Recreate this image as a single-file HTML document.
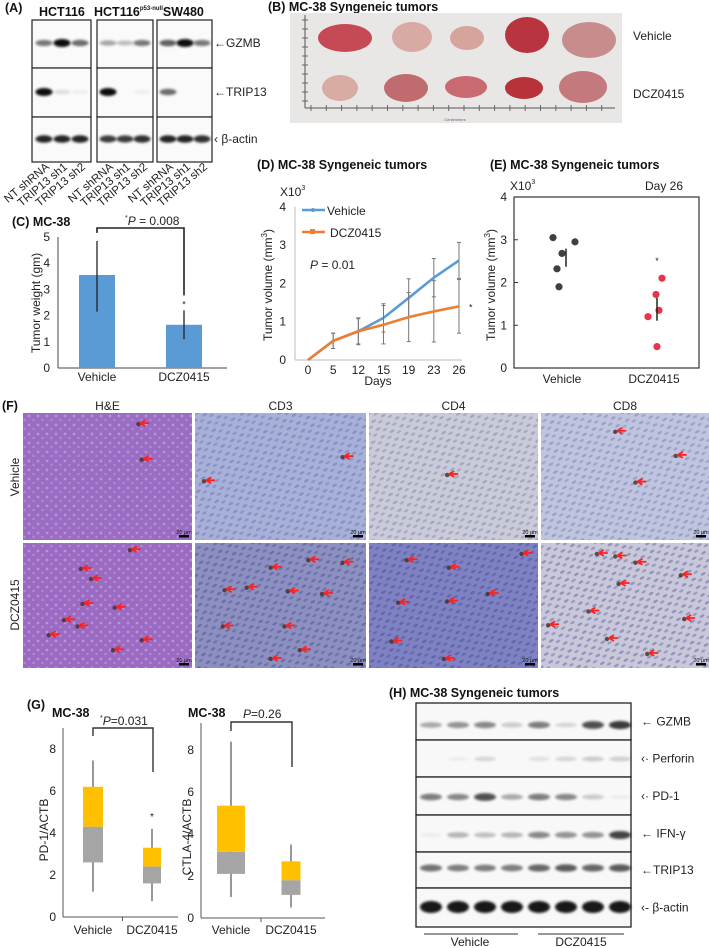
<!DOCTYPE html>
<html><head><meta charset="utf-8"><title>TRIP13 figure</title>
<style>
html,body{margin:0;padding:0;background:#fff;}
svg{display:block;font-family:"Liberation Sans",Arial,sans-serif;}
.t{font-size:12px;fill:#222;}
.b{font-weight:bold;font-size:12.5px;fill:#111;}
</style></head>
<body>
<svg id="fig" width="709" height="948" viewBox="0 0 709 948" xmlns="http://www.w3.org/2000/svg">
<defs>
<filter id="blur1" x="-30%" y="-100%" width="160%" height="300%"><feGaussianBlur stdDeviation="1.3"/></filter>
<filter id="blur2"><feGaussianBlur stdDeviation="2.5"/></filter>
<pattern id="cells" width="11" height="9" patternUnits="userSpaceOnUse" patternTransform="rotate(-30)">
<ellipse cx="3" cy="2.5" rx="2.6" ry="1.3" fill="#2a2f80" opacity="0.35"/>
<ellipse cx="8.5" cy="6.5" rx="2.4" ry="1.2" fill="#2a2f80" opacity="0.3"/>
</pattern>
<pattern id="cellsHE" width="9" height="9" patternUnits="userSpaceOnUse">
<circle cx="2" cy="2" r="1.4" fill="#e6d4f2" opacity="0.55"/>
<circle cx="6.5" cy="6" r="1.2" fill="#e6d4f2" opacity="0.45"/>
</pattern>
</defs>

<!-- Panel A -->
<g>
<text class="b" x="5" y="12" font-size="13">(A)</text>
<text class="b" x="39" y="16" font-size="13">HCT116</text>
<text class="b" x="94" y="16" font-size="13">HCT116<tspan font-size="6" dy="-6">p53-null</tspan><tspan dy="6">SW480</tspan></text>
<g id="blotA"></g>
<text class="t" x="214" y="47">←GZMB</text>
<text class="t" x="214" y="96">←TRIP13</text>
<text class="t" x="214" y="143">‹ β-actin</text>
<g id="laneLabelsA"></g>
</g>

<!-- Panel B -->
<g>
<text class="b" x="268" y="11">(B) MC-38 Syngeneic tumors</text>
<rect x="290" y="13" width="332" height="110" fill="#e9e6e6"/>
<g id="ruler"></g>
<g id="tumors"></g>
<text class="t" x="633" y="40" font-size="13">Vehicle</text>
<text class="t" x="633" y="98" font-size="13">DCZ0415</text>
</g>

<!-- Panel C -->
<g id="panelC">
<text class="b" x="12" y="226">(C) MC-38</text>
<text class="t" transform="translate(40,303) rotate(-90)" text-anchor="middle">Tumor weight (gm)</text>
</g>

<!-- Panel D -->
<g id="panelD">
<text class="b" x="257" y="169">(D) MC-38 Syngeneic tumors</text>
<text class="t" x="280" y="196">X10<tspan font-size="7" dy="-6">3</tspan></text>
<text class="t" transform="translate(272,285) rotate(-90)" text-anchor="middle">Tumor volume (mm<tspan font-size="8" dy="-5">3</tspan><tspan dy="5">)</tspan></text>
<text class="t" x="378" y="385" text-anchor="middle">Days</text>
<text class="t" x="310" y="269"><tspan font-style="italic">P</tspan> = 0.01</text>
</g>

<!-- Panel E -->
<g id="panelE">
<text class="b" x="490" y="169">(E) MC-38 Syngeneic tumors</text>
<text class="t" x="510" y="190">X10<tspan font-size="7" dy="-6">3</tspan></text>
<text class="t" x="645" y="190">Day 26</text>
<text class="t" transform="translate(495,285) rotate(-90)" text-anchor="middle">Tumor volume (mm<tspan font-size="8" dy="-5">3</tspan><tspan dy="5">)</tspan></text>
</g>

<!-- Panel F -->
<g id="panelF">
<text class="b" x="2" y="410">(F)</text>
<text class="t" transform="translate(19,477) rotate(-90)" text-anchor="middle">Vehicle</text>
<text class="t" transform="translate(19,605) rotate(-90)" text-anchor="middle">DCZ0415</text>
</g>

<!-- Panel G -->
<g id="panelG">
<text class="b" x="27" y="709">(G)</text>
<text class="b" x="52" y="717" font-size="11.5">MC-38</text>
<text class="b" x="188" y="717" font-size="11.5">MC-38</text>
<text class="t" x="100" y="725"><tspan font-size="7" dy="-5">*</tspan><tspan font-style="italic" dy="5">P</tspan>=0.031</text>
<text class="t" x="243" y="718"><tspan font-style="italic">P</tspan>=0.26</text>
<text class="t" transform="translate(48,830) rotate(-90)" text-anchor="middle">PD-1/ACTB</text>
<text class="t" transform="translate(191,837) rotate(-90)" text-anchor="middle">CTLA-4/ACTB</text>
</g>

<!-- Panel H -->
<g id="panelH">
<text class="b" x="389" y="697">(H) MC-38 Syngeneic tumors</text>
<g id="blotH"></g>
<line x1="424" y1="934" x2="518" y2="934" stroke="#333" stroke-width="1"/>
<line x1="538" y1="934" x2="624" y2="934" stroke="#333" stroke-width="1"/>
<text class="t" x="470" y="946" text-anchor="middle">Vehicle</text>
<text class="t" x="581" y="946" text-anchor="middle">DCZ0415</text>
</g>
</svg>

<script>
// ===== Chart data =====
// Panel C
const cCategories = ["Vehicle", "DCZ0415"];
const cValues = [3.55, 1.65];
const cErrLow = [2.15, 1.1];
const cErrHigh = [4.85, 2.2];
const cTicks = [0, 1, 2, 3, 4, 5];
// Panel D
const dDays = ["0", "5", "12", "15", "19", "23", "26"];
const dVehicle = [0, 0.5, 0.75, 1.1, 1.62, 2.15, 2.6];
const dDcz = [0, 0.5, 0.75, 0.92, 1.12, 1.27, 1.4];
const dVehicleErr = [0, 0.2, 0.33, 0.37, 0.5, 0.5, 0.47];
const dDczErr = [0, 0.2, 0.35, 0.5, 0.64, 0.8, 0.7];
const dTicks = [0, 1, 2, 3, 4];
// Panel E
const eCategories = ["Vehicle", "DCZ0415"];
const eVehicle = [3.05, 2.32, 1.9, 2.68, 2.95];
const eDcz = [1.2, 1.72, 0.5, 1.35, 2.1];
const eTicks = [0, 1, 2, 3, 4];
// Panel G (box stats: whiskerLow, q1, median, q3, whiskerHigh)
const gCategories = ["Vehicle", "DCZ0415"];
const gPd1Vehicle = [1.2, 2.6, 4.3, 6.2, 7.45];
const gPd1Dcz = [0.75, 1.6, 2.4, 3.3, 4.2];
const gPd1Outlier = [4.85];
const gCtla4Vehicle = [1.0, 2.1, 3.15, 5.35, 8.4];
const gCtla4Dcz = [0.5, 1.1, 1.8, 2.7, 3.5];
const gPd1Ticks = [0, 2, 4, 6, 8];
const gCtla4Ticks = [0, 2, 4, 6, 8];

const NS = "http://www.w3.org/2000/svg";
function mk(tag, attrs, parent) {
  const e = document.createElementNS(NS, tag);
  for (const k in attrs) e.setAttribute(k, attrs[k]);
  parent.appendChild(e);
  return e;
}
function txt(s, attrs, parent) { const e = mk("text", attrs, parent); e.textContent = s; return e; }

// ===== Panel A blots =====
const blotA = document.getElementById("blotA");
const boxesA = [[32, 59], [97, 56], [157, 55]];
const rowsA = [20, 68, 117, 162];
const lanesA = [[44, 62, 80], [108, 125, 142], [168, 185, 202]];
const intenA = [
  [[0.55, 1, 0.6], [0.35, 0.25, 0.55], [0.65, 1, 0.55]],
  [[1, 0.12, 0.05], [1, 0, 0.05], [0.6, 0, 0]],
  [[0.9, 0.9, 0.9], [0.8, 0.8, 0.85], [0.9, 0.9, 0.85]]
];
const bandYA = [43, 92, 139];
boxesA.forEach((b, bi) => {
  for (let r = 0; r < 3; r++) {
    const rr = mk("rect", {x: b[0], y: rowsA[r], width: b[1], height: rowsA[r+1]-rowsA[r], fill: "#fafafa", stroke: "#222", "stroke-width": 1.2}, blotA);
    
    
    lanesA[bi].forEach((lx, li) => {
      const v = intenA[r][bi][li];
      if (v <= 0) return;
      const band = mk("ellipse", {cx: lx, cy: bandYA[r], rx: 8.5, ry: 2 + v*2, fill: "#000", opacity: Math.min(1, v*0.95), filter: "url(#blur1)"}, blotA);
      
      
    });
  }
});
const laneNames = ["NT shRNA", "TRIP13 sh1", "TRIP13 sh2"];
const laneG = document.getElementById("laneLabelsA");
lanesA.flat().forEach((lx, i) => {
  const t = txt(laneNames[i % 3], {x: 0, y: 0, "font-size": 11.5, fill: "#222", "text-anchor": "end", transform: `translate(${lx+6},${168}) rotate(-40)`}, laneG);
  
  
});

// ===== Panel B photo =====
const ruler = document.getElementById("ruler");
mk("line", {x1: 305, y1: 15, x2: 305, y2: 108, stroke: "#555", "stroke-width": 1}, ruler);
mk("line", {x1: 305, y1: 108, x2: 615, y2: 108, stroke: "#555", "stroke-width": 1}, ruler);
for (let i = 0; i < 20; i++) mk("line", {x1: 311 + i*15.3, y1: 105, x2: 311 + i*15.3, y2: 111, stroke: "#666"}, ruler);
for (let i = 0; i < 10; i++) mk("line", {x1: 302, y1: 20 + i*9, x2: 308, y2: 20 + i*9, stroke: "#666"}, ruler);
txt("Centimeters", {x: 455, y: 121, "font-size": 4, fill: "#666", "text-anchor": "middle"}, ruler);
const tumorG = document.getElementById("tumors");
const tum = [
  [345, 38, 27, 14, "#c54a55"], [412, 37, 20, 15, "#d8aaa4"], [467, 38, 17, 12, "#d7a49c"], [527, 35, 22, 18, "#b8343f"], [589, 40, 27, 18, "#c98c8c"],
  [340, 88, 18, 13, "#d8aca2"], [406, 88, 22, 14, "#c06c6e"], [466, 87, 21, 11, "#c86a70"], [524, 88, 19, 11, "#b8323a"], [583, 87, 24, 16, "#c47a7c"]
];
tum.forEach(t => {
  const e = mk("ellipse", {cx: t[0], cy: t[1], rx: t[2], ry: t[3], fill: t[4]}, tumorG);
  
  
});

// ===== Panel C =====
const pc = document.getElementById("panelC");
const yC = v => 368 - v * 26.2;
const xC = i => 97 + i * 87;
mk("line", {x1: 58, y1: yC(5), x2: 58, y2: yC(0), stroke: "#444"}, pc);
mk("line", {x1: 58, y1: yC(0), x2: 227, y2: yC(0), stroke: "#444"}, pc);
cTicks.forEach(t => {
  const l = txt(String(t), {x: 50, y: yC(t) + 4, "text-anchor": "end", class: "t", "font-size": 13}, pc);
  
  
});
cCategories.forEach((c, i) => {
  const bar = mk("rect", {x: xC(i) - 18, y: yC(cValues[i]), width: 36, height: yC(0) - yC(cValues[i]), fill: "#5b9bd5"}, pc);
  
  
  const eb = mk("line", {x1: xC(i), y1: yC(cErrLow[i]), x2: xC(i), y2: yC(cErrHigh[i]), stroke: "#222", "stroke-width": 1.3}, pc);
  
  
  const lb = txt(c, {x: xC(i), y: 381, "text-anchor": "middle", class: "t", "font-size": 13}, pc);
  
  
});
const starC = txt("*", {x: xC(1), y: yC(cErrHigh[1]) - 3, "text-anchor": "middle", "font-size": 9, fill: "#222"}, pc);


const brC = mk("path", {d: `M${xC(0)},${yC(cErrHigh[0]) - 8} V228 H${xC(1)} V${yC(cErrHigh[1]) - 15}`, fill: "none", stroke: "#222", "stroke-width": 1.6}, pc);


const pC = txt("", {x: 125, y: 225, class: "t", "font-size": 12.5}, pc);
pC.innerHTML = '<tspan font-size="7" dy="-5">*</tspan><tspan font-style="italic" dy="5">P</tspan> = 0.008';



// ===== Panel D =====
const pd = document.getElementById("panelD");
const xD = i => 308 + i * (151 / 6);
const yD = v => 360 - v * 38.3;
mk("line", {x1: 295, y1: yD(4), x2: 295, y2: yD(0), stroke: "#bbb"}, pd);
mk("line", {x1: 295, y1: yD(0), x2: 462, y2: yD(0), stroke: "#bbb"}, pd);
dTicks.forEach(t => {
  const l = txt(String(t), {x: 286, y: yD(t) + 4, "text-anchor": "end", class: "t", "font-size": 13}, pd);
  
  
});
dDays.forEach((d, i) => {
  const l = txt(d, {x: xD(i), y: 374, "text-anchor": "middle", class: "t", "font-size": 13}, pd);
  
  
});
function seriesD(vals, errs, color, name) {
  vals.forEach((v, i) => {
    if (!errs[i]) return;
    const e = mk("line", {x1: xD(i), y1: yD(v - errs[i]), x2: xD(i), y2: yD(v + errs[i]), stroke: "#777", "stroke-width": 1}, pd);
    
    
    [v - errs[i], v + errs[i]].forEach(w => mk("line", {x1: xD(i) - 2, y1: yD(w), x2: xD(i) + 2, y2: yD(w), stroke: "#777"}, pd));
  });
  const pl = mk("polyline", {points: vals.map((v, i) => xD(i) + "," + yD(v)).join(" "), fill: "none", stroke: color, "stroke-width": 2.6}, pd);
  
  
}
seriesD(dVehicle, dVehicleErr, "#5b9bd5", "d-vehicle");
seriesD(dDcz, dDczErr, "#ed7d31", "d-dcz0415");
const starD = txt("*", {x: xD(6) + 10, y: yD(dDcz[6]) + 4, "font-size": 9, fill: "#222"}, pd);


// legend
const lg1 = mk("line", {x1: 302, y1: 210, x2: 325, y2: 210, stroke: "#5b9bd5", "stroke-width": 2.5}, pd);


mk("circle", {cx: 313, cy: 210, r: 2, fill: "#5b9bd5"}, pd);
const lt1 = txt("Vehicle", {x: 327, y: 215, class: "t", "font-size": 13}, pd);


const lg2 = mk("line", {x1: 302, y1: 232, x2: 325, y2: 232, stroke: "#ed7d31", "stroke-width": 2.5}, pd);


mk("rect", {x: 310, y: 229, width: 5, height: 5, fill: "#ed7d31"}, pd);
const lt2 = txt("DCZ0415", {x: 330, y: 237, class: "t", "font-size": 13}, pd);



// ===== Panel E =====
const pe = document.getElementById("panelE");
const yE = v => 368 - v * 42.75;
const xE = i => 570 + i * 86;
const jitterE = [[-17, -13, -11, -8, 5], [-8, 0, 1, 3, 6]];
const eb = mk("rect", {x: 514, y: yE(4), width: 185, height: yE(0) - yE(4), fill: "none", stroke: "#333", "stroke-width": 1.2}, pe);


eTicks.forEach(t => {
  const l = txt(String(t), {x: 507, y: yE(t) + 4, "text-anchor": "end", class: "t", "font-size": 13}, pe);
  
  
  mk("line", {x1: 514, y1: yE(t), x2: 518, y2: yE(t), stroke: "#333"}, pe);
});
[eVehicle, eDcz].forEach((pts, gi) => {
  const col = gi === 0 ? "#404040" : "#e8344a";
  pts.forEach((v, k) => {
    const c = mk("circle", {cx: xE(gi) + jitterE[gi][k], cy: yE(v), r: 3.6, fill: col}, pe);
    
    
  });
  const m = pts.reduce((a, b) => a + b, 0) / pts.length;
  const sd = Math.sqrt(pts.reduce((a, b) => a + (b - m) * (b - m), 0) / (pts.length - 1));
  const se = sd / Math.sqrt(pts.length);
  const bx = xE(gi) + (gi === 0 ? -4 : 1);
  const ml = mk("line", {x1: bx, y1: yE(m - se), x2: bx, y2: yE(m + se), stroke: "#222", "stroke-width": 1.5}, pe);
  
  
  const lb = txt(eCategories[gi], {x: xE(gi) - 8 + gi * 6, y: 383, "text-anchor": "middle", class: "t", "font-size": 13}, pe);
  
  
});
const starE = txt("*", {x: xE(1) + 1, y: yE(2.55) + 5, "text-anchor": "middle", "font-size": 9, fill: "#222"}, pe);



// ===== Panel F tissue images =====
const pf = document.getElementById("panelF");
const colsF = [[23, 169, "H&E"], [195, 171, "CD3"], [369, 169, "CD4"], [541, 168, "CD8"]];
const rowsF = [[413, 127], [543, 125]];
const baseF = [["#9a6cc4", "#a6b0d8", "#cacbd8", "#bfc5df"], ["#9b6bc3", "#8c90c0", "#7f82c2", "#c8c8da"]];
const arrowsF = [
  [[[0.7, 0.08], [0.72, 0.36]], [[0.88, 0.34], [0.07, 0.53]], [[0.48, 0.48]], [[0.46, 0.14], [0.82, 0.33], [0.58, 0.54]]],
  [[[0.65, 0.05], [0.36, 0.2], [0.42, 0.28], [0.37, 0.48], [0.56, 0.51], [0.26, 0.61], [0.34, 0.66], [0.17, 0.73], [0.72, 0.77], [0.55, 0.85]],
   [[0.46, 0.19], [0.68, 0.13], [0.88, 0.15], [0.19, 0.37], [0.32, 0.35], [0.56, 0.38], [0.76, 0.4], [0.18, 0.66], [0.54, 0.66], [0.63, 0.85], [0.46, 0.92]],
   [[0.24, 0.13], [0.49, 0.19], [0.92, 0.08], [0.19, 0.47], [0.48, 0.46], [0.72, 0.4], [0.15, 0.78], [0.46, 0.92]],
   [[0.35, 0.08], [0.46, 0.1], [0.58, 0.15], [0.85, 0.25], [0.48, 0.32], [0.3, 0.54], [0.87, 0.6], [0.06, 0.65], [0.41, 0.76], [0.65, 0.88]]]
];
colsF.forEach((c, ci) => {
  const tl = txt(c[2], {x: c[0] + c[1] / 2, y: 410, "text-anchor": "middle", class: "t", "font-size": 12.5}, pf);
  
  
  rowsF.forEach((r, ri) => {
    const img = mk("rect", {x: c[0], y: r[0], width: c[1], height: r[1], fill: baseF[ri][ci]}, pf);
    
    
    mk("rect", {x: c[0], y: r[0], width: c[1], height: r[1], fill: ci === 0 ? "url(#cellsHE)" : "url(#cells)", opacity: ri === 1 && ci > 0 ? 1 : 0.7}, pf);
    arrowsF[ri][ci].forEach(a => {
      const ax = c[0] + a[0] * c[1], ay = r[0] + a[1] * r[1];
      mk("circle", {cx: ax - 3, cy: ay + 1, r: 2.2, fill: "#4a2a20", opacity: 0.8}, pf);
      const ar = mk("path", {d: `M${ax - 1},${ay} l5,-3 M${ax - 1},${ay} l5,3 M${ax - 1},${ay} h9`, stroke: "#ff2020", "stroke-width": 1.8, fill: "none"}, pf);
      
      
    });
    mk("rect", {x: c[0] + c[1] - 13, y: r[0] + r[1] - 5, width: 10, height: 2.5, fill: "#000"}, pf);
    const sb = txt("20 µm", {x: c[0] + c[1] - 8, y: r[0] + r[1] - 6, "text-anchor": "middle", "font-size": 5.5, fill: "#111"}, pf);
    
    
  });
});

// ===== Panel G =====
const pg = document.getElementById("panelG");
function boxChart(ax, y0, axisTop, xEnd, ticks, cats, boxes, xs, bw, name) {
  const yG = v => y0 - v * 21;
  mk("line", {x1: ax, y1: axisTop, x2: ax, y2: y0, stroke: "#555"}, pg);
  mk("line", {x1: ax, y1: y0, x2: xEnd, y2: y0, stroke: "#555"}, pg);
  mk("line", {x1: (xs[0] + xs[1]) / 2, y1: y0, x2: (xs[0] + xs[1]) / 2, y2: y0 + 4, stroke: "#555"}, pg);
  ticks.forEach(t => {
    const ty = Math.max(yG(t), axisTop + 2);
    const l = txt(String(t), {x: ax - 7, y: ty + 4, "text-anchor": "end", class: "t", "font-size": 12}, pg);
    
    
  });
  boxes.forEach((b, i) => {
    const x = xs[i], w = bw[i];
    const wh = mk("line", {x1: x, y1: yG(b[0]), x2: x, y2: yG(b[4]), stroke: "#777", "stroke-width": 1.5}, pg);
    
    
    const lo = mk("rect", {x: x - w / 2, y: yG(b[2]), width: w, height: yG(b[1]) - yG(b[2]), fill: "#a5a5a5"}, pg);
    
    
    const hi = mk("rect", {x: x - w / 2, y: yG(b[3]), width: w, height: yG(b[2]) - yG(b[3]), fill: "#ffc000"}, pg);
    
    
    const lb = txt(cats[i], {x: x, y: 934, "text-anchor": "middle", class: "t", "font-size": 12.5}, pg);
    
    
  });
  return yG;
}
const yG1 = boxChart(63, 917, 728, 178, gPd1Ticks, gCategories, [gPd1Vehicle, gPd1Dcz], [93, 152], [20, 18], "g1");
gPd1Outlier.forEach(v => {
  const s = txt("*", {x: 152, y: yG1(v) + 5, "text-anchor": "middle", "font-size": 10, fill: "#222"}, pg);
  
  
});
const br1 = mk("path", {d: `M93,736 V728 H153 V772`, fill: "none", stroke: "#333", "stroke-width": 1.4}, pg);


const yG2 = boxChart(201, 918, 723, 325, gCtla4Ticks, gCategories, [gCtla4Vehicle, gCtla4Dcz], [231, 291], [28, 19], "g2");
const br2 = mk("path", {d: `M231,731 V722 H292 V767`, fill: "none", stroke: "#333", "stroke-width": 1.4}, pg);



// ===== Panel H blot =====
const bh = document.getElementById("blotH");
const rowsH = [703, 740, 777, 815, 852, 888, 927];
const namesH = ["← GZMB", "‹· Perforin", "‹· PD-1", "← IFN-γ", "←TRIP13", "‹- β-actin"];
const bandsH = [
  [0.35, 0.45, 0.5, 0.2, 0.55, 0.15, 0.75, 0.85],
  [0, 0.05, 0.15, 0, 0.1, 0.15, 0.2, 0.18],
  [0.55, 0.5, 0.75, 0.35, 0.55, 0.5, 0.2, 0.05],
  [0.05, 0.3, 0.25, 0.3, 0.5, 0.45, 0.45, 0.8],
  [0.6, 0.55, 0.55, 0.55, 0.65, 0.7, 0.65, 0.7],
  [1, 1, 1, 1, 1, 1, 1, 1]
];
const bandYH = [725, 759, 797, 835, 868, 907];
for (let r = 0; r < 6; r++) {
  const c = mk("rect", {x: 416, y: rowsH[r], width: 215, height: rowsH[r+1] - rowsH[r], fill: "#f8f8f8", stroke: "#222", "stroke-width": 1.3}, bh);
  
  
  for (let l = 0; l < 8; l++) {
    const v = bandsH[r][l];
    if (v <= 0) continue;
    const b = mk("ellipse", {cx: 431 + l * 27, cy: bandYH[r], rx: 11, ry: r === 5 ? 6 : 2 + v * 2.5, fill: "#000", opacity: Math.min(1, v * 0.9), filter: "url(#blur1)"}, bh);
    
    
  }
  const t = txt(namesH[r], {x: 641, y: (rowsH[r] + rowsH[r+1]) / 2 + 4, class: "t", "font-size": 12}, bh);
  
  
}
</script>
</body></html>
